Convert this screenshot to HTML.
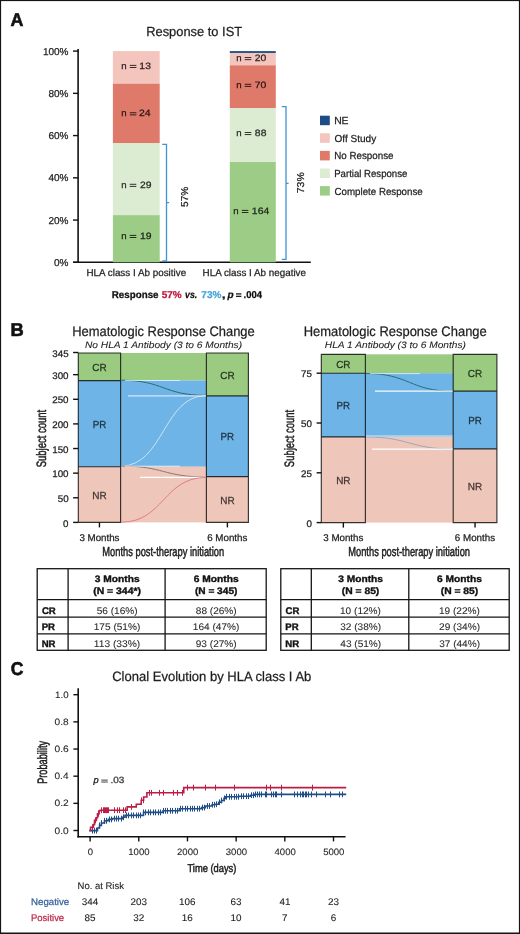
<!DOCTYPE html>
<html><head><meta charset="utf-8"><style>
html,body{margin:0;padding:0;background:#fff;}
svg{display:block;font-family:"Liberation Sans", sans-serif;text-rendering:geometricPrecision;}
</style></head><body>
<svg width="520" height="934" viewBox="0 0 520 934">
<rect width="520" height="934" fill="#fff"/>
<rect x="0" y="0" width="520" height="1.1" fill="#151515"/>
<rect x="0" y="0" width="1.1" height="934" fill="#151515"/>
<rect x="518.9" y="0" width="1.1" height="934" fill="#151515"/>
<rect x="0" y="932.5" width="520" height="1.5" fill="#151515"/>
<line x1="78.10" y1="49.00" x2="78.10" y2="263.00" stroke="#111" stroke-width="1.6"/>
<line x1="73.00" y1="262.30" x2="310.80" y2="262.30" stroke="#111" stroke-width="1.5"/>
<line x1="73.00" y1="262.30" x2="78.10" y2="262.30" stroke="#111" stroke-width="1.4"/>
<line x1="73.00" y1="220.06" x2="78.10" y2="220.06" stroke="#111" stroke-width="1.4"/>
<line x1="73.00" y1="177.82" x2="78.10" y2="177.82" stroke="#111" stroke-width="1.4"/>
<line x1="73.00" y1="135.58" x2="78.10" y2="135.58" stroke="#111" stroke-width="1.4"/>
<line x1="73.00" y1="93.34" x2="78.10" y2="93.34" stroke="#111" stroke-width="1.4"/>
<line x1="73.00" y1="51.10" x2="78.10" y2="51.10" stroke="#111" stroke-width="1.4"/>
<rect x="112.90" y="215.09" width="46.80" height="47.21" fill="#9ccc86"/>
<rect x="112.90" y="143.03" width="46.80" height="72.06" fill="#dcecd2"/>
<rect x="112.90" y="83.40" width="46.80" height="59.63" fill="#df7a6b"/>
<rect x="112.90" y="51.10" width="46.80" height="32.30" fill="#f3c5bd"/>
<rect x="229.80" y="161.90" width="46.00" height="100.40" fill="#9ccc86"/>
<rect x="229.80" y="108.03" width="46.00" height="53.87" fill="#dcecd2"/>
<rect x="229.80" y="65.18" width="46.00" height="42.85" fill="#df7a6b"/>
<rect x="229.80" y="52.94" width="46.00" height="12.24" fill="#f3c5bd"/>
<rect x="229.80" y="51.10" width="46.00" height="1.84" fill="#1d4d88"/>
<rect x="129.80" y="64.90" width="6.60" height="0.95" fill="#2b2322"/>
<rect x="129.80" y="67.00" width="6.60" height="0.95" fill="#2b2322"/>
<rect x="129.80" y="112.30" width="6.60" height="0.95" fill="#281513"/>
<rect x="129.80" y="114.40" width="6.60" height="0.95" fill="#281513"/>
<rect x="129.70" y="183.80" width="6.60" height="0.95" fill="#272a25"/>
<rect x="129.70" y="185.90" width="6.60" height="0.95" fill="#272a25"/>
<rect x="129.70" y="234.90" width="6.60" height="0.95" fill="#1c2418"/>
<rect x="129.70" y="237.00" width="6.60" height="0.95" fill="#1c2418"/>
<rect x="244.70" y="57.10" width="6.60" height="0.95" fill="#2b2322"/>
<rect x="244.70" y="59.20" width="6.60" height="0.95" fill="#2b2322"/>
<rect x="244.70" y="83.80" width="6.60" height="0.95" fill="#281513"/>
<rect x="244.70" y="85.90" width="6.60" height="0.95" fill="#281513"/>
<rect x="244.70" y="132.00" width="6.60" height="0.95" fill="#272a25"/>
<rect x="244.70" y="134.10" width="6.60" height="0.95" fill="#272a25"/>
<rect x="241.80" y="209.90" width="6.60" height="0.95" fill="#1c2418"/>
<rect x="241.80" y="212.00" width="6.60" height="0.95" fill="#1c2418"/>
<path d="M162.30,144.40 H166.50 V261.00 H162.30 M166.50,202.60 H169.10" fill="none" stroke="#3d93d3" stroke-width="1.3"/>
<path d="M281.80,106.70 H286.00 V259.30 H281.80 M286.00,183.30 H288.60" fill="none" stroke="#3d93d3" stroke-width="1.3"/>
<rect x="236.0" y="293.30" width="5.4" height="1.25" fill="#111"/>
<rect x="236.0" y="295.70" width="5.4" height="1.25" fill="#111"/>
<rect x="320.00" y="115.70" width="9.80" height="9.50" fill="#1d4d88"/>
<rect x="320.00" y="133.30" width="9.80" height="9.50" fill="#f3c5bd"/>
<rect x="320.00" y="150.90" width="9.80" height="9.50" fill="#df7a6b"/>
<rect x="320.00" y="168.50" width="9.80" height="9.50" fill="#dcecd2"/>
<rect x="320.00" y="186.10" width="9.80" height="9.50" fill="#9ccc86"/>
<rect x="120.60" y="352.99" width="85.80" height="27.58" fill="#9acb80"/>
<rect x="120.60" y="380.57" width="85.80" height="86.18" fill="#6eb4e6"/>
<rect x="120.60" y="466.75" width="85.80" height="55.65" fill="#efc6ba"/>
<rect x="78.30" y="466.75" width="42.30" height="55.65" fill="#efc6ba"/>
<rect x="78.30" y="380.57" width="42.30" height="86.18" fill="#6eb4e6"/>
<rect x="78.30" y="352.99" width="42.30" height="27.58" fill="#9acb80"/>
<rect x="206.40" y="476.60" width="42.00" height="45.80" fill="#efc6ba"/>
<rect x="206.40" y="395.84" width="42.00" height="80.76" fill="#6eb4e6"/>
<rect x="206.40" y="352.99" width="42.00" height="42.84" fill="#9acb80"/>
<path d="M78.30,352.99 H120.60 V522.40 H78.30 Z M78.30,466.75 H120.60 M78.30,380.57 H120.60" fill="none" stroke="rgba(0,0,0,0.78)" stroke-width="1.15"/>
<path d="M206.40,352.99 H248.40 V522.40 H206.40 Z M206.40,476.60 H248.40 M206.40,395.84 H248.40" fill="none" stroke="rgba(0,0,0,0.78)" stroke-width="1.15"/>
<line x1="73.10" y1="522.40" x2="78.30" y2="522.40" stroke="#111" stroke-width="1.4"/>
<line x1="73.10" y1="497.78" x2="78.30" y2="497.78" stroke="#111" stroke-width="1.4"/>
<line x1="73.10" y1="473.15" x2="78.30" y2="473.15" stroke="#111" stroke-width="1.4"/>
<line x1="73.10" y1="448.53" x2="78.30" y2="448.53" stroke="#111" stroke-width="1.4"/>
<line x1="73.10" y1="423.91" x2="78.30" y2="423.91" stroke="#111" stroke-width="1.4"/>
<line x1="73.10" y1="399.28" x2="78.30" y2="399.28" stroke="#111" stroke-width="1.4"/>
<line x1="73.10" y1="374.66" x2="78.30" y2="374.66" stroke="#111" stroke-width="1.4"/>
<line x1="73.10" y1="352.50" x2="78.30" y2="352.50" stroke="#111" stroke-width="1.4"/>
<line x1="99.45" y1="522.40" x2="99.45" y2="527.40" stroke="#111" stroke-width="1.4"/>
<line x1="227.40" y1="522.40" x2="227.40" y2="527.40" stroke="#111" stroke-width="1.4"/>
<path d="M121.20,380.20 C163.60,380.20 163.60,395.40 206.00,395.40" fill="none" stroke="#2e6b78" stroke-width="1"/>
<path d="M121.20,466.00 C163.60,466.00 163.60,395.60 206.00,395.60" fill="none" stroke="#e8f2f8" stroke-width="1" opacity="0.75"/>
<path d="M128,395.9 H205.8" fill="none" stroke="#f4fbff" stroke-width="1.0" opacity="0.9"/>
<path d="M125,380.5 H180" fill="none" stroke="#eaf6ff" stroke-width="0.9" opacity="0.8"/>
<path d="M121.20,466.00 C163.60,466.00 163.60,477.00 206.00,477.00" fill="none" stroke="#8a7770" stroke-width="1"/>
<path d="M140,477.4 H205.8" fill="none" stroke="#ffffff" stroke-width="1.2"/>
<path d="M125,466.2 H180" fill="none" stroke="#ffffff" stroke-width="0.9" opacity="0.8"/>
<path d="M121.20,522.20 C163.60,522.20 163.60,477.40 206.00,477.40" fill="none" stroke="#e2737c" stroke-width="0.9"/>
<rect x="365.40" y="354.30" width="87.80" height="18.90" fill="#9acb80"/>
<rect x="365.40" y="373.20" width="87.80" height="63.74" fill="#6eb4e6"/>
<rect x="365.40" y="436.94" width="87.80" height="85.66" fill="#efc6ba"/>
<rect x="321.30" y="436.94" width="44.10" height="85.66" fill="#efc6ba"/>
<rect x="321.30" y="373.20" width="44.10" height="63.74" fill="#6eb4e6"/>
<rect x="321.30" y="354.30" width="44.10" height="18.90" fill="#9acb80"/>
<rect x="453.20" y="448.90" width="43.70" height="73.70" fill="#efc6ba"/>
<rect x="453.20" y="391.13" width="43.70" height="57.77" fill="#6eb4e6"/>
<rect x="453.20" y="354.30" width="43.70" height="36.83" fill="#9acb80"/>
<path d="M321.30,354.30 H365.40 V522.60 H321.30 Z M321.30,436.94 H365.40 M321.30,373.20 H365.40" fill="none" stroke="rgba(0,0,0,0.78)" stroke-width="1.15"/>
<path d="M453.20,354.30 H496.90 V522.60 H453.20 Z M453.20,448.90 H496.90 M453.20,391.13 H496.90" fill="none" stroke="rgba(0,0,0,0.78)" stroke-width="1.15"/>
<line x1="316.60" y1="522.60" x2="321.30" y2="522.60" stroke="#111" stroke-width="1.4"/>
<line x1="316.60" y1="472.80" x2="321.30" y2="472.80" stroke="#111" stroke-width="1.4"/>
<line x1="316.60" y1="423.00" x2="321.30" y2="423.00" stroke="#111" stroke-width="1.4"/>
<line x1="316.60" y1="373.20" x2="321.30" y2="373.20" stroke="#111" stroke-width="1.4"/>
<line x1="343.35" y1="522.60" x2="343.35" y2="527.60" stroke="#111" stroke-width="1.4"/>
<line x1="475.05" y1="522.60" x2="475.05" y2="527.60" stroke="#111" stroke-width="1.4"/>
<path d="M366.00,373.50 C409.50,373.50 409.50,391.20 453.00,391.20" fill="none" stroke="#2e6b78" stroke-width="1"/>
<path d="M375,391.2 H452.6" fill="none" stroke="#f4fbff" stroke-width="1.2"/>
<path d="M370,373.6 H420" fill="none" stroke="#eaf6ff" stroke-width="0.9" opacity="0.8"/>
<path d="M366.00,437.00 C409.50,437.00 409.50,449.00 453.00,449.00" fill="none" stroke="#9aa9c0" stroke-width="1"/>
<path d="M372,449.1 H452.6" fill="none" stroke="#ffffff" stroke-width="1.2"/>
<path d="M366,436.0 H452.6" fill="none" stroke="#eef6fb" stroke-width="1.0" opacity="0.8"/>
<g stroke="#151515" stroke-width="1.3" fill="none">
<rect x="37.2" y="568.7" width="229.00" height="81.60"/>
<line x1="37.2" y1="599.6" x2="266.2" y2="599.6"/>
<line x1="37.2" y1="617.2" x2="266.2" y2="617.2"/>
<line x1="37.2" y1="633.9" x2="266.2" y2="633.9"/>
<line x1="68.1" y1="568.7" x2="68.1" y2="650.3"/>
<line x1="165.1" y1="568.7" x2="165.1" y2="650.3"/>
</g>
<g stroke="#151515" stroke-width="1.3" fill="none">
<rect x="280.8" y="568.7" width="228.40" height="81.60"/>
<line x1="280.8" y1="599.6" x2="509.2" y2="599.6"/>
<line x1="280.8" y1="617.2" x2="509.2" y2="617.2"/>
<line x1="280.8" y1="633.9" x2="509.2" y2="633.9"/>
<line x1="311.3" y1="568.7" x2="311.3" y2="650.3"/>
<line x1="408.8" y1="568.7" x2="408.8" y2="650.3"/>
</g>
<line x1="78.20" y1="688.20" x2="78.20" y2="837.40" stroke="#111" stroke-width="1.6"/>
<line x1="77.40" y1="836.70" x2="345.60" y2="836.70" stroke="#111" stroke-width="1.6"/>
<line x1="73.40" y1="830.50" x2="78.20" y2="830.50" stroke="#111" stroke-width="1.4"/>
<line x1="73.40" y1="803.34" x2="78.20" y2="803.34" stroke="#111" stroke-width="1.4"/>
<line x1="73.40" y1="776.18" x2="78.20" y2="776.18" stroke="#111" stroke-width="1.4"/>
<line x1="73.40" y1="749.02" x2="78.20" y2="749.02" stroke="#111" stroke-width="1.4"/>
<line x1="73.40" y1="721.86" x2="78.20" y2="721.86" stroke="#111" stroke-width="1.4"/>
<line x1="73.40" y1="694.70" x2="78.20" y2="694.70" stroke="#111" stroke-width="1.4"/>
<line x1="90.10" y1="836.70" x2="90.10" y2="841.40" stroke="#111" stroke-width="1.4"/>
<line x1="138.78" y1="836.70" x2="138.78" y2="841.40" stroke="#111" stroke-width="1.4"/>
<line x1="187.46" y1="836.70" x2="187.46" y2="841.40" stroke="#111" stroke-width="1.4"/>
<line x1="236.14" y1="836.70" x2="236.14" y2="841.40" stroke="#111" stroke-width="1.4"/>
<line x1="284.82" y1="836.70" x2="284.82" y2="841.40" stroke="#111" stroke-width="1.4"/>
<line x1="333.50" y1="836.70" x2="333.50" y2="841.40" stroke="#111" stroke-width="1.4"/>
<rect x="101.3" y="779.6" width="6.5" height="1.0" fill="#444"/>
<rect x="101.3" y="781.5" width="6.5" height="1.0" fill="#444"/>
<path d="M89.10,830.60 H97.50 V828.00 H99.50 V825.40 H101.40 V823.00 H104.50 V820.80 H108.30 V819.40 H112.20 V818.60 H122.20 V817.30 H125.00 V815.40 H143.50 V812.40 H163.00 V810.80 H179.40 V808.70 H201.50 V807.60 H205.40 V806.00 H212.10 V804.70 H214.80 V804.20 H218.70 V802.30 H221.50 V800.50 H224.00 V798.40 H225.40 V796.80 H238.80 V796.20 H250.40 V795.20 H254.50 V794.40 H346.20 V794.40" fill="none" stroke="#1f4d87" stroke-width="1.6"/>
<path d="M89.50,830.50 H90.60 V827.30 H93.30 V824.60 H94.50 V820.40 H96.40 V817.70 H97.50 V813.80 H99.10 V810.80 H100.20 V810.20 H127.20 V806.90 H136.30 V804.20 H141.20 V800.30 H143.60 V797.00 H146.90 V792.80 H183.75 V787.60 H346.20 V787.60" fill="none" stroke="#bb1d47" stroke-width="1.6"/>
<path d="M92.50,827.70V833.50M94.50,827.70V833.50M96.50,827.70V833.50M99.50,822.50V828.30M101.50,820.10V825.90M104.50,817.90V823.70M106.50,817.90V823.70M109.50,816.50V822.30M111.50,816.50V822.30M114.50,815.70V821.50M116.50,815.70V821.50M118.50,815.70V821.50M121.50,815.70V821.50M123.50,814.40V820.20M126.50,812.50V818.30M128.50,812.50V818.30M131.50,812.50V818.30M133.50,812.50V818.30M136.50,812.50V818.30M138.50,812.50V818.30M140.50,812.50V818.30M143.50,809.50V815.30M145.50,809.50V815.30M148.50,809.50V815.30M150.50,809.50V815.30M153.50,809.50V815.30M155.50,809.50V815.30M158.50,809.50V815.30M160.50,809.50V815.30M163.50,807.90V813.70M165.50,807.90V813.70M167.50,807.90V813.70M170.50,807.90V813.70M172.50,807.90V813.70M175.50,807.90V813.70M177.50,807.90V813.70M180.50,805.80V811.60M182.50,805.80V811.60M185.50,805.80V811.60M187.50,805.80V811.60M190.50,805.80V811.60M192.50,805.80V811.60M194.50,805.80V811.60M197.50,805.80V811.60M199.50,805.80V811.60M202.50,804.70V810.50M204.50,804.70V810.50M207.50,803.10V808.90M209.50,803.10V808.90M212.50,801.80V807.60M214.50,801.80V807.60M216.50,801.30V807.10M219.50,799.40V805.20M221.50,797.60V803.40M224.50,795.50V801.30M226.50,793.90V799.70M229.50,793.90V799.70M231.50,793.90V799.70M234.50,793.90V799.70M236.50,793.90V799.70M238.50,793.90V799.70M241.50,793.30V799.10M243.50,793.30V799.10M246.50,793.30V799.10M248.50,793.30V799.10M251.50,792.30V798.10M253.50,792.30V798.10M255.50,791.50V797.30M257.50,791.50V797.30M259.50,791.50V797.30M261.50,791.50V797.30M265.50,791.50V797.30M266.50,791.50V797.30M271.50,791.50V797.30M273.50,791.50V797.30M275.50,791.50V797.30M276.50,791.50V797.30M281.50,791.50V797.30M294.50,791.50V797.30M297.50,791.50V797.30M300.50,791.50V797.30M302.50,791.50V797.30M303.50,791.50V797.30M305.50,791.50V797.30M306.50,791.50V797.30M308.50,791.50V797.30M311.50,791.50V797.30M316.50,791.50V797.30M325.50,791.50V797.30M330.50,791.50V797.30M339.50,791.50V797.30M342.50,791.50V797.30" fill="none" stroke="#1f4d87" stroke-width="1.0"/>
<path d="M92.50,824.40V830.20M95.50,817.50V823.30M98.50,810.90V816.70M101.50,807.30V813.10M103.50,807.30V813.10M104.50,807.30V813.10M105.50,807.30V813.10M106.50,807.30V813.10M107.50,807.30V813.10M108.50,807.30V813.10M114.50,807.30V813.10M117.50,807.30V813.10M119.50,807.30V813.10M123.50,807.30V813.10M125.50,807.30V813.10M131.50,804.00V809.80M141.50,797.40V803.20M143.50,797.40V803.20M149.50,789.90V795.70M151.50,789.90V795.70M159.50,789.90V795.70M163.50,789.90V795.70M173.50,789.90V795.70M177.50,789.90V795.70M182.50,789.90V795.70M187.50,784.70V790.50M193.50,784.70V790.50M205.50,784.70V790.50M215.50,784.70V790.50M234.50,784.70V790.50M266.50,784.70V790.50M270.50,784.70V790.50M281.50,784.70V790.50M312.50,784.70V790.50" fill="none" stroke="#bb1d47" stroke-width="1.0"/>
<g style="filter:blur(0px)">
<text x="10.55" y="26.00" font-size="18.5" font-weight="bold" fill="#111" stroke="#111" stroke-width="0.6" textLength="12.92" lengthAdjust="spacingAndGlyphs">A</text>
<text x="146.24" y="36.00" font-size="13.2" fill="#1e1e1e" stroke="#1e1e1e" stroke-width="0.25" textLength="95.85" lengthAdjust="spacingAndGlyphs">Response to IST</text>
<text x="54.00" y="265.75" font-size="10" fill="#1e1e1e" stroke="#1e1e1e" stroke-width="0.25" textLength="14.45" lengthAdjust="spacingAndGlyphs">0%</text>
<text x="48.44" y="223.51" font-size="10" fill="#1e1e1e" stroke="#1e1e1e" stroke-width="0.25" textLength="20.01" lengthAdjust="spacingAndGlyphs">20%</text>
<text x="48.44" y="181.27" font-size="10" fill="#1e1e1e" stroke="#1e1e1e" stroke-width="0.25" textLength="20.01" lengthAdjust="spacingAndGlyphs">40%</text>
<text x="48.44" y="139.03" font-size="10" fill="#1e1e1e" stroke="#1e1e1e" stroke-width="0.25" textLength="20.01" lengthAdjust="spacingAndGlyphs">60%</text>
<text x="48.44" y="96.79" font-size="10" fill="#1e1e1e" stroke="#1e1e1e" stroke-width="0.25" textLength="20.01" lengthAdjust="spacingAndGlyphs">80%</text>
<text x="42.88" y="54.55" font-size="10" fill="#1e1e1e" stroke="#1e1e1e" stroke-width="0.25" textLength="25.58" lengthAdjust="spacingAndGlyphs">100%</text>
<text x="121.36" y="69.00" font-size="9.2" fill="#2b2322" stroke="#2b2322" stroke-width="0.25" textLength="5.37" lengthAdjust="spacingAndGlyphs">n</text>
<text x="139.39" y="69.00" font-size="9.2" fill="#2b2322" stroke="#2b2322" stroke-width="0.25" textLength="11.56" lengthAdjust="spacingAndGlyphs">13</text>
<text x="121.36" y="116.40" font-size="9.2" fill="#281513" stroke="#281513" stroke-width="0.25" textLength="5.37" lengthAdjust="spacingAndGlyphs">n</text>
<text x="138.94" y="116.40" font-size="9.2" fill="#281513" stroke="#281513" stroke-width="0.25" textLength="11.56" lengthAdjust="spacingAndGlyphs">24</text>
<text x="121.26" y="187.90" font-size="9.2" fill="#272a25" stroke="#272a25" stroke-width="0.25" textLength="5.37" lengthAdjust="spacingAndGlyphs">n</text>
<text x="139.93" y="187.90" font-size="9.2" fill="#272a25" stroke="#272a25" stroke-width="0.25" textLength="11.56" lengthAdjust="spacingAndGlyphs">29</text>
<text x="121.26" y="239.00" font-size="9.2" fill="#1c2418" stroke="#1c2418" stroke-width="0.25" textLength="5.37" lengthAdjust="spacingAndGlyphs">n</text>
<text x="139.93" y="239.00" font-size="9.2" fill="#1c2418" stroke="#1c2418" stroke-width="0.25" textLength="11.56" lengthAdjust="spacingAndGlyphs">19</text>
<text x="236.26" y="61.20" font-size="9.2" fill="#2b2322" stroke="#2b2322" stroke-width="0.25" textLength="5.37" lengthAdjust="spacingAndGlyphs">n</text>
<text x="254.84" y="61.20" font-size="9.2" fill="#2b2322" stroke="#2b2322" stroke-width="0.25" textLength="11.56" lengthAdjust="spacingAndGlyphs">20</text>
<text x="236.26" y="87.90" font-size="9.2" fill="#281513" stroke="#281513" stroke-width="0.25" textLength="5.37" lengthAdjust="spacingAndGlyphs">n</text>
<text x="254.84" y="87.90" font-size="9.2" fill="#281513" stroke="#281513" stroke-width="0.25" textLength="11.56" lengthAdjust="spacingAndGlyphs">70</text>
<text x="236.26" y="136.10" font-size="9.2" fill="#272a25" stroke="#272a25" stroke-width="0.25" textLength="5.37" lengthAdjust="spacingAndGlyphs">n</text>
<text x="254.89" y="136.10" font-size="9.2" fill="#272a25" stroke="#272a25" stroke-width="0.25" textLength="11.56" lengthAdjust="spacingAndGlyphs">88</text>
<text x="233.36" y="214.00" font-size="9.2" fill="#1c2418" stroke="#1c2418" stroke-width="0.25" textLength="5.37" lengthAdjust="spacingAndGlyphs">n</text>
<text x="251.86" y="214.00" font-size="9.2" fill="#1c2418" stroke="#1c2418" stroke-width="0.25" textLength="17.35" lengthAdjust="spacingAndGlyphs">164</text>
<text transform="translate(187.90,206.90) rotate(-90)" font-size="10" fill="#1e1e1e" stroke="#1e1e1e" stroke-width="0.25" textLength="20.16" lengthAdjust="spacingAndGlyphs">57%</text>
<text transform="translate(303.60,193.24) rotate(-90)" font-size="10" fill="#1e1e1e" stroke="#1e1e1e" stroke-width="0.25" textLength="20.91" lengthAdjust="spacingAndGlyphs">73%</text>
<text x="86.40" y="275.80" font-size="10" fill="#1e1e1e" stroke="#1e1e1e" stroke-width="0.25" textLength="99.73" lengthAdjust="spacingAndGlyphs">HLA class I Ab positive</text>
<text x="202.60" y="275.80" font-size="10" fill="#1e1e1e" stroke="#1e1e1e" stroke-width="0.25" textLength="103.43" lengthAdjust="spacingAndGlyphs">HLA class I Ab negative</text>
<text x="111.75" y="298.00" font-size="10" font-weight="bold" fill="#111" stroke="#111" stroke-width="0.25" textLength="46.79" lengthAdjust="spacingAndGlyphs">Response</text>
<text x="161.69" y="298.00" font-size="10" font-weight="bold" fill="#c3173d" stroke="#c3173d" stroke-width="0.25" textLength="19.97" lengthAdjust="spacingAndGlyphs">57%</text>
<text x="185.1" y="298.0" font-size="10" font-weight="bold" font-style="italic" fill="#111" stroke="#111" stroke-width="0.25" textLength="12.2" lengthAdjust="spacingAndGlyphs">vs.</text>
<text x="201.37" y="298.00" font-size="10" font-weight="bold" fill="#45a6da" stroke="#45a6da" stroke-width="0.25" textLength="19.99" lengthAdjust="spacingAndGlyphs">73%</text>
<text x="221.65" y="298.00" font-size="10" font-weight="bold" fill="#111" stroke="#111" stroke-width="0.25" textLength="3.88" lengthAdjust="spacingAndGlyphs">,</text>
<text x="227.4" y="298.0" font-size="10" font-weight="bold" font-style="italic" fill="#111" stroke="#111" stroke-width="0.25">p</text>
<text x="243.56" y="298.00" font-size="10" font-weight="bold" fill="#111" stroke="#111" stroke-width="0.25" textLength="18.39" lengthAdjust="spacingAndGlyphs">.004</text>
<text x="334.15" y="124.10" font-size="10.2" fill="#1e1e1e" stroke="#1e1e1e" stroke-width="0.25" textLength="14.40" lengthAdjust="spacingAndGlyphs">NE</text>
<text x="334.53" y="141.70" font-size="10.2" fill="#1e1e1e" stroke="#1e1e1e" stroke-width="0.25" textLength="41.69" lengthAdjust="spacingAndGlyphs">Off Study</text>
<text x="334.20" y="159.30" font-size="10.2" fill="#1e1e1e" stroke="#1e1e1e" stroke-width="0.25" textLength="59.34" lengthAdjust="spacingAndGlyphs">No Response</text>
<text x="334.21" y="176.90" font-size="10.2" fill="#1e1e1e" stroke="#1e1e1e" stroke-width="0.25" textLength="73.11" lengthAdjust="spacingAndGlyphs">Partial Response</text>
<text x="334.51" y="194.50" font-size="10.2" fill="#1e1e1e" stroke="#1e1e1e" stroke-width="0.25" textLength="88.23" lengthAdjust="spacingAndGlyphs">Complete Response</text>
<text x="10.57" y="335.60" font-size="18.5" font-weight="bold" fill="#111" stroke="#111" stroke-width="0.6" textLength="13.26" lengthAdjust="spacingAndGlyphs">B</text>
<text x="99.45" y="498.68" font-size="10.2" text-anchor="middle" fill="#3e3330" stroke="#3e3330" stroke-width="0.25" textLength="14.40" lengthAdjust="spacingAndGlyphs">NR</text>
<text x="99.45" y="427.76" font-size="10.2" text-anchor="middle" fill="#1c2e3b" stroke="#1c2e3b" stroke-width="0.25" textLength="13.60" lengthAdjust="spacingAndGlyphs">PR</text>
<text x="99.45" y="370.88" font-size="10.2" text-anchor="middle" fill="#283421" stroke="#283421" stroke-width="0.25" textLength="14.40" lengthAdjust="spacingAndGlyphs">CR</text>
<text x="227.40" y="503.60" font-size="10.2" text-anchor="middle" fill="#3e3330" stroke="#3e3330" stroke-width="0.25" textLength="14.40" lengthAdjust="spacingAndGlyphs">NR</text>
<text x="227.40" y="440.32" font-size="10.2" text-anchor="middle" fill="#1c2e3b" stroke="#1c2e3b" stroke-width="0.25" textLength="13.60" lengthAdjust="spacingAndGlyphs">PR</text>
<text x="227.40" y="378.51" font-size="10.2" text-anchor="middle" fill="#283421" stroke="#283421" stroke-width="0.25" textLength="14.40" lengthAdjust="spacingAndGlyphs">CR</text>
<text x="63.14" y="526.60" font-size="9.6" fill="#1e1e1e" stroke="#1e1e1e" stroke-width="0.25" textLength="5.45" lengthAdjust="spacingAndGlyphs">0</text>
<text x="57.69" y="501.98" font-size="9.6" fill="#1e1e1e" stroke="#1e1e1e" stroke-width="0.25" textLength="10.89" lengthAdjust="spacingAndGlyphs">50</text>
<text x="52.24" y="477.35" font-size="9.6" fill="#1e1e1e" stroke="#1e1e1e" stroke-width="0.25" textLength="16.34" lengthAdjust="spacingAndGlyphs">100</text>
<text x="52.24" y="452.73" font-size="9.6" fill="#1e1e1e" stroke="#1e1e1e" stroke-width="0.25" textLength="16.34" lengthAdjust="spacingAndGlyphs">150</text>
<text x="52.24" y="428.11" font-size="9.6" fill="#1e1e1e" stroke="#1e1e1e" stroke-width="0.25" textLength="16.34" lengthAdjust="spacingAndGlyphs">200</text>
<text x="52.24" y="403.48" font-size="9.6" fill="#1e1e1e" stroke="#1e1e1e" stroke-width="0.25" textLength="16.34" lengthAdjust="spacingAndGlyphs">250</text>
<text x="52.24" y="378.86" font-size="9.6" fill="#1e1e1e" stroke="#1e1e1e" stroke-width="0.25" textLength="16.34" lengthAdjust="spacingAndGlyphs">300</text>
<text x="52.27" y="356.70" font-size="9.6" fill="#1e1e1e" stroke="#1e1e1e" stroke-width="0.25" textLength="16.34" lengthAdjust="spacingAndGlyphs">345</text>
<text x="79.38" y="540.70" font-size="9.8" fill="#1e1e1e" stroke="#1e1e1e" stroke-width="0.25" textLength="40.12" lengthAdjust="spacingAndGlyphs">3 Months</text>
<text x="207.20" y="540.70" font-size="9.8" fill="#1e1e1e" stroke="#1e1e1e" stroke-width="0.25" textLength="40.25" lengthAdjust="spacingAndGlyphs">6 Months</text>
<text x="343.35" y="483.87" font-size="10.2" text-anchor="middle" fill="#3e3330" stroke="#3e3330" stroke-width="0.25" textLength="14.40" lengthAdjust="spacingAndGlyphs">NR</text>
<text x="343.35" y="409.17" font-size="10.2" text-anchor="middle" fill="#1c2e3b" stroke="#1c2e3b" stroke-width="0.25" textLength="13.60" lengthAdjust="spacingAndGlyphs">PR</text>
<text x="343.35" y="367.85" font-size="10.2" text-anchor="middle" fill="#283421" stroke="#283421" stroke-width="0.25" textLength="14.40" lengthAdjust="spacingAndGlyphs">CR</text>
<text x="475.05" y="489.85" font-size="10.2" text-anchor="middle" fill="#3e3330" stroke="#3e3330" stroke-width="0.25" textLength="14.40" lengthAdjust="spacingAndGlyphs">NR</text>
<text x="475.05" y="424.11" font-size="10.2" text-anchor="middle" fill="#1c2e3b" stroke="#1c2e3b" stroke-width="0.25" textLength="13.60" lengthAdjust="spacingAndGlyphs">PR</text>
<text x="475.05" y="376.81" font-size="10.2" text-anchor="middle" fill="#283421" stroke="#283421" stroke-width="0.25" textLength="14.40" lengthAdjust="spacingAndGlyphs">CR</text>
<text x="306.44" y="526.80" font-size="9.6" fill="#1e1e1e" stroke="#1e1e1e" stroke-width="0.25" textLength="5.45" lengthAdjust="spacingAndGlyphs">0</text>
<text x="301.02" y="477.00" font-size="9.6" fill="#1e1e1e" stroke="#1e1e1e" stroke-width="0.25" textLength="10.89" lengthAdjust="spacingAndGlyphs">25</text>
<text x="300.99" y="427.20" font-size="9.6" fill="#1e1e1e" stroke="#1e1e1e" stroke-width="0.25" textLength="10.89" lengthAdjust="spacingAndGlyphs">50</text>
<text x="301.02" y="377.40" font-size="9.6" fill="#1e1e1e" stroke="#1e1e1e" stroke-width="0.25" textLength="10.89" lengthAdjust="spacingAndGlyphs">75</text>
<text x="323.28" y="540.70" font-size="9.8" fill="#1e1e1e" stroke="#1e1e1e" stroke-width="0.25" textLength="40.12" lengthAdjust="spacingAndGlyphs">3 Months</text>
<text x="454.85" y="540.70" font-size="9.8" fill="#1e1e1e" stroke="#1e1e1e" stroke-width="0.25" textLength="40.25" lengthAdjust="spacingAndGlyphs">6 Months</text>
<text x="72.14" y="335.60" font-size="13.8" fill="#1e1e1e" stroke="#1e1e1e" stroke-width="0.25" textLength="182.64" lengthAdjust="spacingAndGlyphs">Hematologic Response Change</text>
<text x="84.99" y="347.70" font-size="9.4" font-style="italic" fill="#1e1e1e" stroke="#1e1e1e" stroke-width="0.08" textLength="157.12" lengthAdjust="spacingAndGlyphs">No HLA 1 Antibody (3 to 6 Months)</text>
<text x="303.74" y="335.60" font-size="13.8" fill="#1e1e1e" stroke="#1e1e1e" stroke-width="0.25" textLength="183.04" lengthAdjust="spacingAndGlyphs">Hematologic Response Change</text>
<text x="324.89" y="347.70" font-size="9.4" font-style="italic" fill="#1e1e1e" stroke="#1e1e1e" stroke-width="0.08" textLength="141.11" lengthAdjust="spacingAndGlyphs">HLA 1 Antibody (3 to 6 Months)</text>
<text transform="translate(45.60,467.33) rotate(-90)" font-size="13.6" fill="#1e1e1e" stroke="#1e1e1e" stroke-width="0.5" textLength="57.50" lengthAdjust="spacingAndGlyphs">Subject count</text>
<text transform="translate(294.10,467.13) rotate(-90)" font-size="13.6" fill="#1e1e1e" stroke="#1e1e1e" stroke-width="0.5" textLength="57.20" lengthAdjust="spacingAndGlyphs">Subject count</text>
<text x="102.34" y="556.10" font-size="13.0" fill="#1e1e1e" stroke="#1e1e1e" stroke-width="0.5" textLength="121.77" lengthAdjust="spacingAndGlyphs">Months post-therapy initiation</text>
<text x="348.24" y="556.10" font-size="13.0" fill="#1e1e1e" stroke="#1e1e1e" stroke-width="0.5" textLength="121.77" lengthAdjust="spacingAndGlyphs">Months post-therapy initiation</text>
<text x="94.82" y="582.10" font-size="9.4" font-weight="bold" fill="#111" stroke="#111" stroke-width="0.35" textLength="44.75" lengthAdjust="spacingAndGlyphs">3 Months</text>
<text x="93.23" y="594.20" font-size="9.4" font-weight="bold" fill="#111" stroke="#111" stroke-width="0.35" textLength="47.74" lengthAdjust="spacingAndGlyphs">(N = 344*)</text>
<text x="193.73" y="582.10" font-size="9.4" font-weight="bold" fill="#111" stroke="#111" stroke-width="0.35" textLength="44.89" lengthAdjust="spacingAndGlyphs">6 Months</text>
<text x="194.90" y="594.20" font-size="9.4" font-weight="bold" fill="#111" stroke="#111" stroke-width="0.35" textLength="42.51" lengthAdjust="spacingAndGlyphs">(N = 345)</text>
<text x="41.91" y="614.30" font-size="9.6" font-weight="bold" fill="#111" stroke="#111" stroke-width="0.35" textLength="13.87" lengthAdjust="spacingAndGlyphs">CR</text>
<text x="96.76" y="614.30" font-size="9.6" fill="#2a2a2a" stroke="#2a2a2a" stroke-width="0.08" textLength="40.90" lengthAdjust="spacingAndGlyphs">56 (16%)</text>
<text x="195.79" y="614.30" font-size="9.6" fill="#2a2a2a" stroke="#2a2a2a" stroke-width="0.08" textLength="40.90" lengthAdjust="spacingAndGlyphs">88 (26%)</text>
<text x="41.66" y="629.80" font-size="9.6" font-weight="bold" fill="#111" stroke="#111" stroke-width="0.35" textLength="13.34" lengthAdjust="spacingAndGlyphs">PR</text>
<text x="93.78" y="629.80" font-size="9.6" fill="#2a2a2a" stroke="#2a2a2a" stroke-width="0.08" textLength="46.51" lengthAdjust="spacingAndGlyphs">175 (51%)</text>
<text x="192.83" y="629.80" font-size="9.6" fill="#2a2a2a" stroke="#2a2a2a" stroke-width="0.08" textLength="46.51" lengthAdjust="spacingAndGlyphs">164 (47%)</text>
<text x="41.66" y="646.60" font-size="9.6" font-weight="bold" fill="#111" stroke="#111" stroke-width="0.35" textLength="13.87" lengthAdjust="spacingAndGlyphs">NR</text>
<text x="93.78" y="646.60" font-size="9.6" fill="#2a2a2a" stroke="#2a2a2a" stroke-width="0.08" textLength="46.51" lengthAdjust="spacingAndGlyphs">113 (33%)</text>
<text x="195.78" y="646.60" font-size="9.6" fill="#2a2a2a" stroke="#2a2a2a" stroke-width="0.08" textLength="40.90" lengthAdjust="spacingAndGlyphs">93 (27%)</text>
<text x="338.27" y="582.10" font-size="9.4" font-weight="bold" fill="#111" stroke="#111" stroke-width="0.35" textLength="44.75" lengthAdjust="spacingAndGlyphs">3 Months</text>
<text x="341.79" y="594.20" font-size="9.4" font-weight="bold" fill="#111" stroke="#111" stroke-width="0.35" textLength="37.53" lengthAdjust="spacingAndGlyphs">(N = 85)</text>
<text x="437.08" y="582.10" font-size="9.4" font-weight="bold" fill="#111" stroke="#111" stroke-width="0.35" textLength="44.89" lengthAdjust="spacingAndGlyphs">6 Months</text>
<text x="440.74" y="594.20" font-size="9.4" font-weight="bold" fill="#111" stroke="#111" stroke-width="0.35" textLength="37.53" lengthAdjust="spacingAndGlyphs">(N = 85)</text>
<text x="285.51" y="614.30" font-size="9.6" font-weight="bold" fill="#111" stroke="#111" stroke-width="0.35" textLength="13.87" lengthAdjust="spacingAndGlyphs">CR</text>
<text x="340.03" y="614.30" font-size="9.6" fill="#2a2a2a" stroke="#2a2a2a" stroke-width="0.08" textLength="40.90" lengthAdjust="spacingAndGlyphs">10 (12%)</text>
<text x="438.98" y="614.30" font-size="9.6" fill="#2a2a2a" stroke="#2a2a2a" stroke-width="0.08" textLength="40.90" lengthAdjust="spacingAndGlyphs">19 (22%)</text>
<text x="285.26" y="629.80" font-size="9.6" font-weight="bold" fill="#111" stroke="#111" stroke-width="0.35" textLength="13.34" lengthAdjust="spacingAndGlyphs">PR</text>
<text x="340.22" y="629.80" font-size="9.6" fill="#2a2a2a" stroke="#2a2a2a" stroke-width="0.08" textLength="40.90" lengthAdjust="spacingAndGlyphs">32 (38%)</text>
<text x="439.11" y="629.80" font-size="9.6" fill="#2a2a2a" stroke="#2a2a2a" stroke-width="0.08" textLength="40.90" lengthAdjust="spacingAndGlyphs">29 (34%)</text>
<text x="285.26" y="646.60" font-size="9.6" font-weight="bold" fill="#111" stroke="#111" stroke-width="0.35" textLength="13.87" lengthAdjust="spacingAndGlyphs">NR</text>
<text x="340.30" y="646.60" font-size="9.6" fill="#2a2a2a" stroke="#2a2a2a" stroke-width="0.08" textLength="40.90" lengthAdjust="spacingAndGlyphs">43 (51%)</text>
<text x="439.17" y="646.60" font-size="9.6" fill="#2a2a2a" stroke="#2a2a2a" stroke-width="0.08" textLength="40.90" lengthAdjust="spacingAndGlyphs">37 (44%)</text>
<text x="10.78" y="675.30" font-size="18.5" font-weight="bold" fill="#111" stroke="#111" stroke-width="0.6" textLength="12.70" lengthAdjust="spacingAndGlyphs">C</text>
<text x="112.14" y="680.60" font-size="13.5" fill="#1e1e1e" stroke="#1e1e1e" stroke-width="0.25" textLength="199.20" lengthAdjust="spacingAndGlyphs">Clonal Evolution by HLA class I Ab</text>
<text x="54.50" y="833.60" font-size="9.2" fill="#1e1e1e" stroke="#1e1e1e" stroke-width="0.1" textLength="14.09" lengthAdjust="spacingAndGlyphs">0.0</text>
<text x="54.50" y="806.44" font-size="9.2" fill="#1e1e1e" stroke="#1e1e1e" stroke-width="0.1" textLength="14.21" lengthAdjust="spacingAndGlyphs">0.2</text>
<text x="54.51" y="779.28" font-size="9.2" fill="#1e1e1e" stroke="#1e1e1e" stroke-width="0.1" textLength="13.99" lengthAdjust="spacingAndGlyphs">0.4</text>
<text x="54.50" y="752.12" font-size="9.2" fill="#1e1e1e" stroke="#1e1e1e" stroke-width="0.1" textLength="14.14" lengthAdjust="spacingAndGlyphs">0.6</text>
<text x="54.50" y="724.96" font-size="9.2" fill="#1e1e1e" stroke="#1e1e1e" stroke-width="0.1" textLength="14.14" lengthAdjust="spacingAndGlyphs">0.8</text>
<text x="55.06" y="697.80" font-size="9.2" fill="#1e1e1e" stroke="#1e1e1e" stroke-width="0.1" textLength="13.52" lengthAdjust="spacingAndGlyphs">1.0</text>
<text x="87.74" y="854.60" font-size="9.2" fill="#1e1e1e" stroke="#1e1e1e" stroke-width="0.1" textLength="5.32" lengthAdjust="spacingAndGlyphs">0</text>
<text x="128.26" y="854.60" font-size="9.2" fill="#1e1e1e" stroke="#1e1e1e" stroke-width="0.1" textLength="21.29" lengthAdjust="spacingAndGlyphs">1000</text>
<text x="177.06" y="854.60" font-size="9.2" fill="#1e1e1e" stroke="#1e1e1e" stroke-width="0.1" textLength="21.29" lengthAdjust="spacingAndGlyphs">2000</text>
<text x="225.80" y="854.60" font-size="9.2" fill="#1e1e1e" stroke="#1e1e1e" stroke-width="0.1" textLength="21.29" lengthAdjust="spacingAndGlyphs">3000</text>
<text x="274.55" y="854.60" font-size="9.2" fill="#1e1e1e" stroke="#1e1e1e" stroke-width="0.1" textLength="21.29" lengthAdjust="spacingAndGlyphs">4000</text>
<text x="323.15" y="854.60" font-size="9.2" fill="#1e1e1e" stroke="#1e1e1e" stroke-width="0.1" textLength="21.29" lengthAdjust="spacingAndGlyphs">5000</text>
<text transform="translate(46.70,783.86) rotate(-90)" font-size="13.6" fill="#1e1e1e" stroke="#1e1e1e" stroke-width="0.5" textLength="42.97" lengthAdjust="spacingAndGlyphs">Probability</text>
<text x="93.4" y="783.3" font-size="9.2" font-style="italic" fill="#222" stroke="#222" stroke-width="0.3">p</text>
<text x="110.49" y="783.30" font-size="9" fill="#333" stroke="#333" stroke-width="0.25" textLength="13.85" lengthAdjust="spacingAndGlyphs">.03</text>
<text x="187.49" y="871.70" font-size="11.3" fill="#1e1e1e" stroke="#1e1e1e" stroke-width="0.5" textLength="48.88" lengthAdjust="spacingAndGlyphs">Time (days)</text>
<text x="77.52" y="889.10" font-size="9.6" fill="#1e1e1e" stroke="#1e1e1e" stroke-width="0.1" textLength="46.47" lengthAdjust="spacingAndGlyphs">No. at Risk</text>
<text x="31.01" y="905.40" font-size="9.6" fill="#36649a" stroke="#36649a" stroke-width="0.25" textLength="38.22" lengthAdjust="spacingAndGlyphs">Negative</text>
<text x="31.02" y="920.80" font-size="9.6" fill="#bd2a4c" stroke="#bd2a4c" stroke-width="0.25" textLength="33.10" lengthAdjust="spacingAndGlyphs">Positive</text>
<text x="81.81" y="905.40" font-size="9.6" fill="#1e1e1e" stroke="#1e1e1e" stroke-width="0.1" textLength="16.50" lengthAdjust="spacingAndGlyphs">344</text>
<text x="84.59" y="920.80" font-size="9.6" fill="#1e1e1e" stroke="#1e1e1e" stroke-width="0.1" textLength="11.00" lengthAdjust="spacingAndGlyphs">85</text>
<text x="130.50" y="905.40" font-size="9.6" fill="#1e1e1e" stroke="#1e1e1e" stroke-width="0.1" textLength="16.50" lengthAdjust="spacingAndGlyphs">203</text>
<text x="133.34" y="920.80" font-size="9.6" fill="#1e1e1e" stroke="#1e1e1e" stroke-width="0.1" textLength="11.00" lengthAdjust="spacingAndGlyphs">32</text>
<text x="179.05" y="905.40" font-size="9.6" fill="#1e1e1e" stroke="#1e1e1e" stroke-width="0.1" textLength="16.50" lengthAdjust="spacingAndGlyphs">106</text>
<text x="181.80" y="920.80" font-size="9.6" fill="#1e1e1e" stroke="#1e1e1e" stroke-width="0.1" textLength="11.00" lengthAdjust="spacingAndGlyphs">16</text>
<text x="230.61" y="905.40" font-size="9.6" fill="#1e1e1e" stroke="#1e1e1e" stroke-width="0.1" textLength="11.00" lengthAdjust="spacingAndGlyphs">63</text>
<text x="230.46" y="920.80" font-size="9.6" fill="#1e1e1e" stroke="#1e1e1e" stroke-width="0.1" textLength="11.00" lengthAdjust="spacingAndGlyphs">10</text>
<text x="279.45" y="905.40" font-size="9.6" fill="#1e1e1e" stroke="#1e1e1e" stroke-width="0.1" textLength="11.00" lengthAdjust="spacingAndGlyphs">41</text>
<text x="282.07" y="920.80" font-size="9.6" fill="#1e1e1e" stroke="#1e1e1e" stroke-width="0.1" textLength="5.50" lengthAdjust="spacingAndGlyphs">7</text>
<text x="327.97" y="905.40" font-size="9.6" fill="#1e1e1e" stroke="#1e1e1e" stroke-width="0.1" textLength="11.00" lengthAdjust="spacingAndGlyphs">23</text>
<text x="330.72" y="920.80" font-size="9.6" fill="#1e1e1e" stroke="#1e1e1e" stroke-width="0.1" textLength="5.50" lengthAdjust="spacingAndGlyphs">6</text>
</g>
</svg>
</body></html>
